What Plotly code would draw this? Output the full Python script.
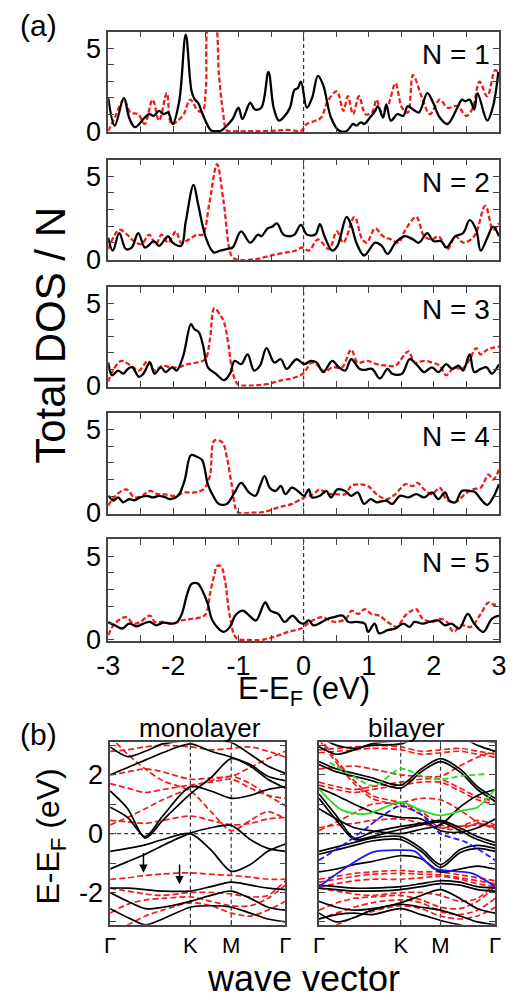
import plotly.graph_objects as go

FONT = "Liberation Sans, Arial, sans-serif"
BLACK = "#000000"
RED = "#ee1c1c"
AXIS = "#444444"

# ---------------- (a) total DOS per layer, (energy, DOS) pairs ----------------
P1_BLACK = [(-3.00,2.0),(-2.90,0.33),(-2.76,2.0),(-2.68,0.82),(-2.59,0.24),(-2.44,0.82),(-2.37,1.02),(-2.30,0.92),(-2.22,1.22),(-2.15,1.02),(-2.08,1.12),(-2.01,0.43),(-1.91,1.8),(-1.81,5.82),(-1.72,2.4),(-1.67,1.9),(-1.62,1.7),(-1.55,1.02),(-1.42,0.04),(-1.33,0.0),(-1.26,0.04),(-1.18,0.33),(-1.09,0.73),(-1.00,1.41),(-0.94,0.73),(-0.82,1.71),(-0.75,1.31),(-0.65,1.41),(-0.54,3.57),(-0.46,1.41),(-0.38,0.63),(-0.31,0.82),(-0.21,1.41),(-0.14,2.49),(-0.09,2.59),(-0.04,2.98),(0.05,1.41),(0.13,2.0),(0.22,3.33),(0.30,2.78),(0.42,0.82),(0.54,0.04),(0.66,0.0),(0.76,0.43),(0.81,0.33),(0.88,0.53),(0.93,0.43),(1.02,0.82),(1.10,1.22),(1.14,1.51),(1.22,0.82),(1.27,1.61),(1.34,0.63),(1.44,1.02),(1.53,0.92),(1.60,1.51),(1.68,1.31),(1.77,1.12),(1.90,2.29),(1.99,1.71),(2.09,0.82),(2.21,0.43),(2.36,1.41),(2.43,1.9),(2.48,1.8),(2.55,1.9),(2.62,1.31),(2.67,2.29),(2.82,0.63),(2.91,1.51),(2.99,3.57)]
P1_RED = [(-3.0,0.0),(-2.9,0.82),(-2.76,1.9),(-2.66,1.12),(-2.54,1.02),(-2.44,0.43),(-2.32,1.9),(-2.22,0.63),(-2.10,2.29),(-2.03,0.43),(-1.93,0.63),(-1.84,1.02),(-1.74,1.9),(-1.62,1.22),(-1.55,1.22),(-1.50,2.6),(-1.45,6.6),(-1.37,6.6),(-1.30,3.4),(-1.24,1.2),(-1.18,0.05),(-1.10,0.0),(-0.75,0.0),(-0.40,0.03),(-0.26,0.08),(-0.12,0.02),(-0.04,0.0),(0.05,0.43),(0.18,0.63),(0.27,0.82),(0.37,1.8),(0.51,2.4),(0.61,1.22),(0.68,2.1),(0.76,1.02),(0.85,2.1),(0.95,1.02),(1.05,1.12),(1.12,1.9),(1.19,1.22),(1.29,1.51),(1.41,2.88),(1.51,1.41),(1.60,1.12),(1.68,3.37),(1.82,2.0),(1.94,1.02),(2.09,1.9),(2.21,1.41),(2.36,1.51),(2.50,0.92),(2.60,1.41),(2.70,2.98),(2.82,2.1),(2.94,3.67),(3.0,3.47)]

P2_BLACK = [(-3.0,1.3),(-2.93,0.52),(-2.83,1.58),(-2.73,0.62),(-2.64,0.7),(-2.54,1.58),(-2.44,0.71),(-2.39,0.8),(-2.30,1.1),(-2.22,0.81),(-2.13,1.2),(-2.08,1.39),(-2.01,1.0),(-1.88,0.81),(-1.81,2.26),(-1.69,4.48),(-1.62,3.32),(-1.50,1.29),(-1.38,0.42),(-1.28,0.52),(-1.18,0.62),(-1.09,0.71),(-0.96,1.68),(-0.82,1.0),(-0.70,1.49),(-0.65,1.39),(-0.55,1.87),(-0.48,1.97),(-0.41,2.16),(-0.31,1.49),(-0.21,1.39),(-0.14,1.49),(-0.04,2.07),(0.05,1.49),(0.18,1.49),(0.25,2.12),(0.32,1.39),(0.44,0.52),(0.52,0.81),(0.66,2.55),(0.73,2.07),(0.81,1.0),(0.93,0.23),(1.10,1.0),(1.20,0.81),(1.29,0.33),(1.41,1.0),(1.55,1.39),(1.68,1.2),(1.77,1.0),(1.90,1.58),(1.99,1.1),(2.11,1.1),(2.19,0.71),(2.33,1.39),(2.45,1.58),(2.55,2.36),(2.65,1.78),(2.72,0.52),(2.82,1.29),(2.91,1.97),(3.0,1.39)]
P2_RED = [(-3.0,0.62),(-2.83,1.78),(-2.71,1.49),(-2.61,1.1),(-2.49,0.91),(-2.37,1.49),(-2.27,0.91),(-2.18,1.49),(-2.08,1.0),(-1.96,1.68),(-1.88,1.0),(-1.76,1.2),(-1.64,1.49),(-1.55,1.49),(-1.45,3.32),(-1.33,5.73),(-1.23,3.51),(-1.11,0.23),(-1.04,0.0),(-0.75,0.0),(-0.50,0.23),(-0.26,0.42),(-0.14,0.5),(-0.02,0.71),(0.08,0.52),(0.22,1.2),(0.39,0.62),(0.51,1.68),(0.61,1.0),(0.78,2.55),(0.90,1.2),(0.97,1.0),(1.10,1.87),(1.22,1.39),(1.34,1.2),(1.46,1.0),(1.55,1.68),(1.73,2.55),(1.85,1.39),(1.97,1.2),(2.07,1.39),(2.21,0.62),(2.33,1.39),(2.45,1.0),(2.62,1.39),(2.79,3.22),(2.91,1.78),(3.0,2.16)]

P3_BLACK = [(-3.0,1.4),(-2.94,0.62),(-2.85,0.91),(-2.77,0.72),(-2.70,1.01),(-2.63,1.11),(-2.53,0.53),(-2.46,0.72),(-2.36,1.4),(-2.29,0.72),(-2.19,1.11),(-2.12,0.82),(-2.02,1.11),(-1.95,0.91),(-1.85,1.79),(-1.73,3.74),(-1.68,3.44),(-1.61,3.25),(-1.54,2.37),(-1.47,1.11),(-1.35,0.72),(-1.22,0.33),(-1.13,0.72),(-1.06,1.5),(-0.96,1.3),(-0.86,1.89),(-0.76,0.91),(-0.67,1.21),(-0.57,2.28),(-0.45,1.4),(-0.35,1.6),(-0.26,1.01),(-0.11,1.6),(0.01,1.3),(0.11,1.5),(0.20,1.4),(0.30,0.82),(0.44,1.5),(0.54,1.11),(0.64,0.91),(0.73,1.6),(0.86,1.01),(0.93,0.95),(1.05,1.01),(1.17,0.43),(1.29,1.01),(1.36,0.72),(1.51,0.72),(1.63,1.6),(1.75,1.21),(1.85,0.82),(1.97,1.11),(2.07,0.82),(2.19,1.3),(2.28,1.01),(2.38,1.21),(2.45,0.91),(2.55,1.89),(2.62,0.82),(2.72,1.01),(2.81,1.11),(2.89,0.72),(3.0,1.3)]
P3_RED = [(-3.0,0.23),(-2.94,0.82),(-2.80,1.5),(-2.65,1.21),(-2.53,0.91),(-2.39,1.5),(-2.29,0.91),(-2.17,1.21),(-2.05,1.11),(-1.93,1.11),(-1.78,1.3),(-1.64,1.4),(-1.51,1.6),(-1.44,2.76),(-1.37,4.71),(-1.27,4.22),(-1.22,3.83),(-1.15,2.37),(-1.10,1.01),(-1.01,0.08),(-0.81,0.0),(-0.57,0.08),(-0.33,0.33),(-0.18,0.43),(-0.01,0.72),(0.13,1.4),(0.25,1.11),(0.32,0.82),(0.44,1.11),(0.59,1.11),(0.73,2.18),(0.83,1.4),(0.98,1.5),(1.12,1.3),(1.27,1.21),(1.41,1.21),(1.61,2.08),(1.70,1.4),(1.85,1.5),(1.97,1.4),(2.09,1.21),(2.19,0.62),(2.31,1.11),(2.43,1.01),(2.55,1.6),(2.65,2.28),(2.72,1.89),(2.82,2.18),(3.0,2.37)]

P4_BLACK = [(-3.0,1.02),(-2.92,0.73),(-2.85,0.92),(-2.77,0.63),(-2.68,0.82),(-2.60,0.75),(-2.51,0.92),(-2.41,1.02),(-2.31,0.92),(-2.22,1.02),(-2.12,0.92),(-2.05,0.82),(-1.93,1.02),(-1.83,1.9),(-1.73,3.47),(-1.64,3.37),(-1.56,3.18),(-1.47,1.71),(-1.39,1.02),(-1.30,0.53),(-1.18,0.53),(-1.06,1.22),(-0.96,1.8),(-0.84,1.22),(-0.74,1.02),(-0.67,1.61),(-0.60,2.2),(-0.52,1.51),(-0.43,1.31),(-0.35,1.61),(-0.28,1.12),(-0.18,1.51),(-0.09,1.31),(0.01,1.02),(0.08,1.41),(0.13,0.92),(0.25,1.02),(0.35,1.31),(0.42,0.92),(0.52,1.41),(0.64,1.31),(0.73,1.02),(0.83,1.22),(0.93,0.53),(1.03,0.82),(1.12,0.63),(1.27,0.73),(1.36,0.53),(1.48,1.02),(1.61,0.92),(1.73,1.12),(1.85,0.92),(1.97,1.22),(2.07,0.82),(2.17,1.22),(2.24,0.73),(2.33,0.63),(2.43,1.31),(2.55,1.31),(2.63,1.25),(2.72,0.82),(2.82,0.47),(2.91,0.92),(3.0,1.71)]
P4_RED = [(-3.0,0.43),(-2.89,1.02),(-2.72,1.41),(-2.60,0.92),(-2.48,1.02),(-2.36,1.31),(-2.24,1.12),(-2.12,1.1),(-1.97,1.02),(-1.83,1.22),(-1.68,1.22),(-1.54,1.41),(-1.44,2.2),(-1.37,4.35),(-1.25,4.25),(-1.18,3.37),(-1.10,1.61),(-1.01,0.04),(-0.81,0.0),(-0.62,0.04),(-0.38,0.33),(-0.18,0.53),(0.01,0.92),(0.15,1.12),(0.25,1.41),(0.35,1.15),(0.49,1.12),(0.64,1.12),(0.73,1.61),(0.83,1.71),(0.93,1.68),(1.0,1.58),(1.12,1.12),(1.27,0.82),(1.41,1.12),(1.56,1.71),(1.68,1.61),(1.75,1.8),(1.85,1.41),(1.97,1.12),(2.09,1.51),(2.19,0.82),(2.33,0.63),(2.48,1.12),(2.60,1.41),(2.72,1.51),(2.84,2.3),(2.91,2.0),(3.0,2.6)]

P5_BLACK = [(-3.0,1.07),(-2.90,0.87),(-2.78,0.68),(-2.68,0.97),(-2.56,0.81),(-2.46,0.97),(-2.36,1.07),(-2.26,0.87),(-2.16,1.03),(-2.01,0.97),(-1.94,1.07),(-1.87,1.55),(-1.79,2.7),(-1.73,3.3),(-1.68,3.4),(-1.62,3.35),(-1.55,2.9),(-1.47,2.13),(-1.40,1.16),(-1.23,0.48),(-1.13,0.78),(-1.05,1.45),(-0.93,1.74),(-0.81,1.36),(-0.73,1.16),(-0.59,2.23),(-0.51,1.74),(-0.39,1.55),(-0.29,1.07),(-0.17,1.45),(-0.07,1.07),(0.0,0.97),(0.08,1.16),(0.15,0.87),(0.25,1.0),(0.37,1.26),(0.47,1.36),(0.60,1.45),(0.69,1.07),(0.82,1.07),(0.94,0.97),(0.99,0.48),(1.09,0.97),(1.16,0.39),(1.29,0.58),(1.41,0.68),(1.53,0.97),(1.63,0.78),(1.70,1.07),(1.83,0.97),(1.93,1.07),(2.07,1.16),(2.17,0.87),(2.27,0.97),(2.39,0.68),(2.52,1.55),(2.62,0.97),(2.76,0.48),(2.89,1.26),(3.0,1.45)]
P5_RED = [(-3.0,0.29),(-2.90,0.97),(-2.73,1.36),(-2.61,0.97),(-2.51,1.07),(-2.36,1.45),(-2.28,1.07),(-2.16,1.07),(-2.01,0.97),(-1.87,1.16),(-1.72,1.26),(-1.57,1.36),(-1.50,1.55),(-1.43,2.9),(-1.37,3.9),(-1.33,4.4),(-1.27,4.4),(-1.21,3.6),(-1.13,1.36),(-1.03,0.1),(-0.83,0.0),(-0.64,0.0),(-0.44,0.19),(-0.24,0.48),(-0.04,0.68),(0.10,1.07),(0.28,1.36),(0.40,1.16),(0.50,1.07),(0.65,1.26),(0.74,1.74),(0.84,1.55),(0.94,1.84),(1.04,1.55),(1.16,1.45),(1.29,1.07),(1.43,0.78),(1.56,1.45),(1.66,1.74),(1.73,1.84),(1.83,1.26),(1.98,1.07),(2.10,1.26),(2.20,1.07),(2.30,0.48),(2.42,0.87),(2.57,0.78),(2.72,1.55),(2.84,2.23),(2.92,2.1),(3.0,2.13)]

DOS_PANELS = [(P1_BLACK, P1_RED), (P2_BLACK, P2_RED), (P3_BLACK, P3_RED),
              (P4_BLACK, P4_RED), (P5_BLACK, P5_RED)]
PANEL_LABELS = ["N = 1", "N = 2", "N = 3", "N = 4", "N = 5"]
E_TICKS = [-3, -2, -1, 0, 1, 2, 3]

# ---------------- (b) band structures ----------------
K_LABELS = ["Γ", "K", "M", "Γ"]
MONO_HS = [0.0, 0.458, 0.691, 1.0]
BI_HS = [0.0, 0.464, 0.69, 1.0]
MONO_K = [0.0, 0.1, 0.2, 0.3, 0.458, 0.575, 0.691, 0.8, 0.9, 1.0]
BI_K = [0.0, 0.1, 0.2, 0.3, 0.464, 0.58, 0.69, 0.8, 0.9, 1.0]

MONO_BLACK = [
    [2.95, 2.62, 2.8, 3.05, 3.2, 3.5, 3.6, 3.5, 3.3, 3.2],
    [3.6, 3.5, 3.4, 3.3, 3.25, 3.15, 3.1, 2.7, 2.3, 2.05],
    [2.0, 2.25, 2.5, 2.75, 3.05, 2.8, 2.6, 2.3, 1.85, 1.55],
    [1.45, 0.85, -0.15, 0.45, 1.35, 1.9, 2.55, 2.35, 1.95, 1.8],
    [0.9, 0.55, -0.1, 0.6, 1.6, 1.45, 1.2, 1.3, 1.5, 1.6],
    [-0.6, -0.5, -0.38, -0.2, 0.0, -0.55, -1.28, -1.05, -0.6, -0.35],
    [-1.2, -0.95, -0.7, -0.4, 0.02, 0.2, 0.28, -0.2, -0.5, -0.6],
    [-1.85, -1.85, -1.9, -1.95, -1.95, -1.8, -1.65, -1.75, -1.85, -1.9],
    [-2.0, -2.3, -2.55, -2.5, -2.3, -2.1, -1.95, -2.2, -2.5, -2.6],
    [-2.55, -2.85, -3.1, -2.9, -2.5, -2.45, -2.5, -2.7, -2.9, -3.0],
]
MONO_RED = [
    [2.8, 2.85, 2.95, 3.0, 2.95, 2.85, 2.9, 2.95, 2.8, 2.6],
    [3.3, 2.7, 2.2, 1.8, 1.45, 0.75, 0.1, 0.45, 0.75, 0.5],
    [2.0, 2.1, 2.2, 2.1, 1.85, 1.9, 1.95, 2.25, 2.55, 2.8],
    [1.7, 1.55, 1.4, 1.5, 1.65, 1.75, 1.85, 1.55, 1.3, 1.2],
    [0.3, 0.55, 0.85, 1.15, 1.55, 1.8, 1.95, 1.7, 1.3, 0.95],
    [0.45, 0.4, 0.35, 0.45, 0.6, 0.45, 0.3, 0.35, 0.5, 0.55],
    [-1.55, -1.5, -1.42, -1.37, -1.33, -1.38, -1.42, -1.48, -1.55, -1.55],
    [-1.85, -1.95, -2.05, -2.1, -2.0, -2.0, -2.05, -2.15, -2.1, -1.6],
    [-2.7, -2.4, -2.25, -2.2, -2.15, -2.3, -2.45, -2.45, -2.2, -1.75],
    [-3.3, -3.1, -2.8, -2.6, -2.35, -2.45, -2.7, -2.8, -2.6, -2.3],
]
BI_BLACK = [
    [2.95, 2.7, 2.85, 3.05, 3.2, 3.4, 3.5, 3.4, 3.2, 3.1],
    [3.3, 3.0, 2.9, 3.0, 3.05, 3.3, 3.4, 3.3, 3.0, 2.8],
    [2.45, 2.2, 2.05, 1.9, 1.65, 2.2, 2.55, 2.2, 1.6, 1.2],
    [2.35, 2.1, 1.95, 1.8, 1.55, 2.1, 2.45, 2.1, 1.5, 1.1],
    [1.55, 1.3, 1.0, 0.75, 0.55, 0.5, 0.1, 0.05, 0.2, 0.5],
    [1.35, 0.6, -0.15, 0.05, 0.25, 0.35, 0.45, 0.2, -0.1, -0.3],
    [1.2, 0.45, -0.2, -0.1, 0.15, 0.3, 0.4, 0.1, -0.2, -0.4],
    [0.85, 0.5, 0.2, 0.1, 0.0, 0.15, 0.3, 0.9, 1.3, 1.5],
    [-0.6, -0.45, -0.3, -0.15, -0.1, -0.5, -1.05, -0.55, -0.4, -0.5],
    [-0.7, -0.55, -0.4, -0.25, -0.2, -0.6, -1.15, -0.65, -0.5, -0.6],
    [-1.3, -1.2, -1.05, -0.95, -0.75, -0.85, -1.3, -1.2, -1.1, -1.2],
    [-1.75, -1.8, -1.85, -1.85, -1.8, -1.7, -1.6, -1.65, -1.8, -1.85],
    [-1.85, -1.9, -1.95, -1.95, -1.9, -1.8, -1.7, -1.75, -1.9, -1.95],
    [-2.3, -2.5, -2.6, -2.55, -2.35, -2.1, -1.9, -2.2, -2.55, -2.7],
    [-2.7, -3.0, -2.85, -2.6, -2.4, -2.5, -2.6, -2.8, -3.0, -3.1],
    [-2.9, -2.75, -2.7, -2.75, -2.55, -2.75, -2.95, -3.1, -3.2, -3.2],
]
BI_RED = [
    [2.85, 2.9, 2.95, 3.0, 2.95, 2.8, 2.85, 2.9, 2.8, 2.7],
    [2.75, 2.8, 2.85, 2.9, 2.85, 2.7, 2.75, 2.8, 2.7, 2.6],
    [3.3, 2.5, 1.8, 1.3, 1.05, 0.75, 0.3, 0.25, 0.45, 0.3],
    [3.2, 2.4, 1.7, 1.2, 0.95, 0.65, 0.2, 0.15, 0.35, 0.2],
    [2.2, 2.25, 2.3, 2.2, 2.0, 1.95, 1.95, 2.3, 2.6, 2.8],
    [1.75, 1.6, 1.5, 1.6, 1.75, 1.85, 1.85, 1.55, 1.25, 1.1],
    [1.65, 1.5, 1.4, 1.5, 1.65, 1.75, 1.75, 1.45, 1.15, 1.0],
    [0.1, 0.4, 0.7, 1.0, 1.05, 1.2, 1.15, 0.8, 0.4, 0.15],
    [0.2, 0.3, 0.35, 0.45, 0.5, 0.35, 0.2, 0.25, 0.3, 0.25],
    [-1.55, -1.45, -1.35, -1.3, -1.25, -1.3, -1.3, -1.4, -1.5, -1.6],
    [-1.65, -1.55, -1.45, -1.38, -1.35, -1.38, -1.4, -1.5, -1.6, -1.7],
    [-1.8, -1.7, -1.6, -1.55, -1.55, -1.5, -1.45, -1.55, -1.7, -1.8],
    [-1.85, -1.95, -2.05, -2.1, -2.0, -2.0, -2.1, -2.3, -2.2, -1.7],
    [-2.6, -2.35, -2.2, -2.15, -2.1, -2.25, -2.5, -2.55, -2.3, -1.8],
    [-2.9, -2.7, -2.5, -2.35, -2.25, -2.35, -2.65, -2.75, -2.6, -2.2],
    [-3.3, -3.1, -2.85, -2.65, -2.45, -2.55, -2.8, -2.9, -2.8, -2.5],
]
# highlighted bilayer bands: (k, E) pairs
GREEN_SOLID = [(0.0, 1.52), (0.13, 0.8), (0.27, 0.67), (0.464, 1.07), (0.58, 0.79), (0.69, 0.62), (0.82, 0.79), (0.9, 0.9), (1.0, 1.52)]
GREEN_DASH = [(0.06, 2.42), (0.18, 2.0), (0.31, 1.63), (0.464, 2.21), (0.58, 1.97), (0.69, 1.85), (0.82, 1.97), (0.94, 2.02)]
BLUE_DASH = [(0.0, -0.9), (0.12, -0.45), (0.25, 0.1), (0.36, 0.6), (0.464, 0.95), (0.58, 0.65), (0.69, 0.0), (0.83, -0.28), (1.0, -0.9)]
BLUE_SOLID = [(0.0, -1.8), (0.13, -1.24), (0.31, -0.62), (0.464, -0.56), (0.545, -0.6), (0.65, -1.18), (0.76, -1.27), (0.87, -1.35), (1.0, -1.8)]
# arrows in the monolayer panel: (k, E_tail, E_head)
ARROWS = [(0.19, -0.61, -1.33), (0.396, -1.0, -1.72)]

fig = go.Figure()

W, H = 532, 1000
def px_x(p):
    return p / W
def px_y(p):
    return 1 - p / H

DOS_X = [px_x(100), px_x(506)]
DOS_Y = [(32, 134), (162, 264), (291, 392), (419, 521), (547, 650)]
MONO_X = [px_x(102), px_x(284)]
BI_X = [px_x(319), px_x(502)]
BAND_Y = [px_y(938), px_y(753)]

axis_common = dict(showline=True, linecolor=AXIS, linewidth=1.5, mirror="allticks",
                   ticks="inside", ticklen=6, tickwidth=1.2, tickcolor=AXIS,
                   showgrid=False, zeroline=False,
                   tickfont=dict(family=FONT, size=27, color=BLACK))

layout_axes = {}
for i, ((blk, red), (top, bot)) in enumerate(zip(DOS_PANELS, DOS_Y), start=1):
    xa = f"x{i}" if i > 1 else "x"
    ya = f"y{i}" if i > 1 else "y"
    fig.add_trace(go.Scatter(x=[p[0] for p in red], y=[p[1] for p in red], xaxis=xa, yaxis=ya,
                             mode="lines", line=dict(color=RED, width=2.3, dash="5px,2.5px",
                                                     shape="spline", smoothing=1.0),
                             showlegend=False, hoverinfo="skip"))
    fig.add_trace(go.Scatter(x=[p[0] for p in blk], y=[p[1] for p in blk], xaxis=xa, yaxis=ya,
                             mode="lines", line=dict(color=BLACK, width=2.3,
                                                     shape="spline", smoothing=1.0),
                             showlegend=False, hoverinfo="skip"))
    xt = [v / 2 for v in range(-6, 7)]
    layout_axes[f"xaxis{i if i > 1 else ''}"] = dict(
        axis_common, domain=DOS_X, anchor=ya, range=[-3, 3],
        tickvals=xt, ticktext=[(f"{int(v)}" if v in E_TICKS else "") for v in xt],
        showticklabels=(i == 5))
    layout_axes[f"yaxis{i if i > 1 else ''}"] = dict(
        axis_common, domain=[px_y(bot), px_y(top)], anchor=xa, range=[-0.06, 6.0],
        tickvals=[0, 1, 2, 3, 4, 5], ticktext=["0", "", "", "", "", "5"])
    fig.add_shape(type="line", xref=xa, yref=f"{ya} domain", x0=0, x1=0, y0=0, y1=1,
                  line=dict(color="#333333", width=1.2, dash="4px,3px"), layer="below")
    fig.add_annotation(text=PANEL_LABELS[i - 1], xref=xa, yref=ya, x=2.9, y=4.6,
                       xanchor="right", yanchor="middle", showarrow=False,
                       font=dict(family=FONT, size=28, color=BLACK))


def add_bands(xa, ya, kpts, bands, color, dash, width):
    for b in bands:
        fig.add_trace(go.Scatter(x=kpts, y=b, xaxis=xa, yaxis=ya, mode="lines",
                                 line=dict(color=color, width=width, dash=dash,
                                           shape="spline", smoothing=0.8),
                                 showlegend=False, hoverinfo="skip"))


def add_pairs(xa, ya, pairs, color, dash):
    fig.add_trace(go.Scatter(x=[p[0] for p in pairs], y=[p[1] for p in pairs], xaxis=xa, yaxis=ya,
                             mode="lines", line=dict(color=color, width=1.8, dash=dash,
                                                     shape="spline", smoothing=0.8),
                             showlegend=False, hoverinfo="skip"))


add_bands("x6", "y6", MONO_K, MONO_RED, RED, "6px,3px", 1.7)
add_bands("x6", "y6", MONO_K, MONO_BLACK, BLACK, "solid", 1.7)
add_bands("x7", "y7", BI_K, BI_RED, RED, "6px,3px", 1.7)
add_bands("x7", "y7", BI_K, BI_BLACK, BLACK, "solid", 1.7)
add_pairs("x7", "y7", GREEN_DASH, "#22dd22", "6px,3px")
add_pairs("x7", "y7", GREEN_SOLID, "#22dd22", "solid")
add_pairs("x7", "y7", BLUE_DASH, "#1a1aff", "6px,3px")
add_pairs("x7", "y7", BLUE_SOLID, "#1a1aff", "solid")

for n, (xa, ya, dom, hs) in enumerate([("x6", "y6", MONO_X, MONO_HS), ("x7", "y7", BI_X, BI_HS)]):
    key = xa.replace("x", "xaxis")
    layout_axes[key] = dict(axis_common, domain=dom, anchor=ya, range=[0, 1],
                            tickvals=hs, ticktext=K_LABELS, ticklen=5,
                            tickfont=dict(family=FONT, size=22, color=BLACK))
    layout_axes[ya.replace("y", "yaxis")] = dict(
        axis_common, domain=BAND_Y, anchor=xa, range=[-3.1, 3.1],
        tickvals=[-3, -2, -1, 0, 1, 2, 3], ticktext=["", "-2", "", "0", "", "2", ""],
        showticklabels=(n == 0))
    for kv in hs[1:3]:
        fig.add_shape(type="line", xref=xa, yref=f"{ya} domain", x0=kv, x1=kv, y0=0, y1=1,
                      line=dict(color="#333333", width=1.2, dash="4px,3px"), layer="below")
    fig.add_shape(type="line", xref=f"{xa} domain", yref=ya, x0=0, x1=1, y0=0, y1=0,
                  line=dict(color="#333333", width=1.2, dash="4px,3px"), layer="below")

for k, e0, e1 in ARROWS:
    fig.add_annotation(x=k, y=e1, ax=k, ay=e0, xref="x6", yref="y6", axref="x6", ayref="y6",
                       text="", showarrow=True, arrowhead=2, arrowsize=1.1, arrowwidth=1.5,
                       arrowcolor=BLACK)

texts = [
    ("(a)", 28, 26, 30, 0),
    ("(b)", 28, 745, 30, 0),
    ("Total DOS / N", 40, 340, 42, -90),
    ("E-E<sub>F</sub> (eV)", 303, 701, 31, 0),
    ("E-E<sub>F</sub> (eV)", 40, 848, 32, -90),
    ("monolayer", 195, 738, 26, 0),
    ("bilayer", 410, 738, 26, 0),
    ("wave vector", 303, 992, 36, 0),
]
for t, x, y, s, ang in texts:
    fig.add_annotation(text=t, xref="paper", yref="paper", x=px_x(x), y=px_y(y),
                       xanchor="center", yanchor="middle", showarrow=False, textangle=ang,
                       font=dict(family=FONT, size=s, color=BLACK))

fig.update_layout(width=W, height=H, margin=dict(l=0, r=0, t=0, b=0),
                  paper_bgcolor="white", plot_bgcolor="white", **layout_axes)

fig.write_html("out.html")
